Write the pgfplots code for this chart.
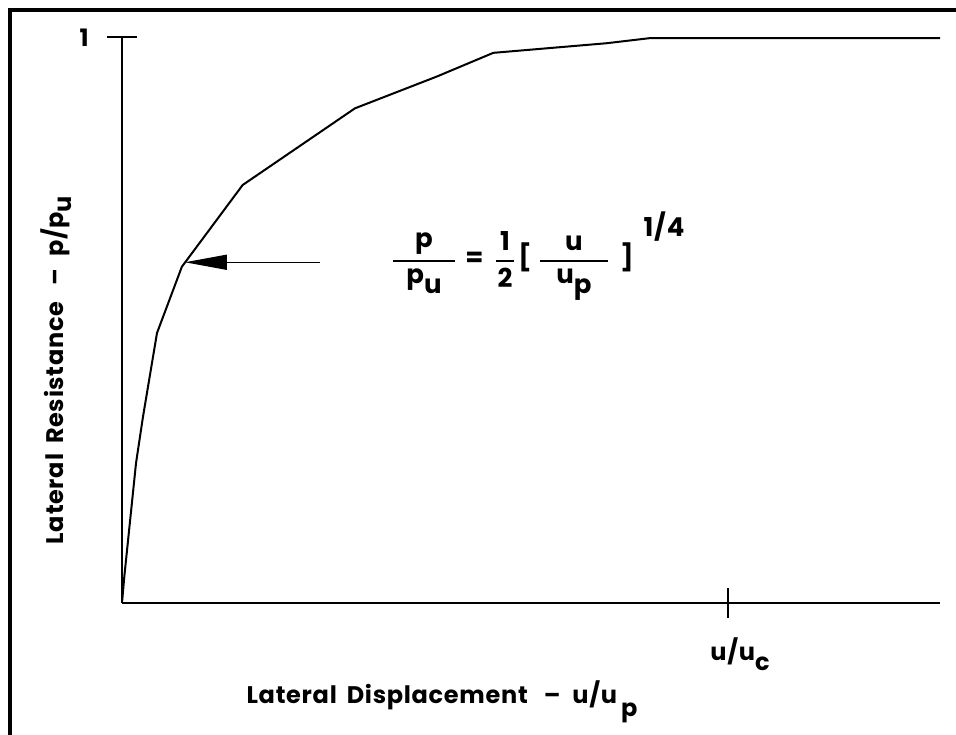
\documentclass[border=0pt]{standalone}
\usepackage{amsmath}
\usepackage{pgfplots}
\pgfplotsset{compat=1.18}
\usepackage{fontspec}
\setmainfont{Poppins}[LetterSpace=3]
\usetikzlibrary{arrows.meta}
\newcommand\fr[3][1pt]{\genfrac{}{}{#1}{0}{#2}{#3}}
\begin{document}
\begin{tikzpicture}[x=1pt,y=1pt]
\useasboundingbox (0,0) rectangle (478,367);
\draw[line width=2pt] (5,-20) -- (5,361.75) -- (500,361.75);
\begin{axis}[
  at={(61pt,65.5pt)}, anchor=south west,
  scale only axis, width=409pt, height=283pt,
  xmin=0, xmax=10.8, ymin=0, ymax=1,
  axis lines=left, axis line style={-, line width=0.9pt},
  xtick={8}, ytick={1}, xticklabels={}, yticklabels={},
  major tick length=15pt, tick align=center,
  tick style={line width=0.8pt, black},
  clip=false]
\addplot[black, line width=1pt] coordinates {
  (0,0) (0.03,0.046) (0.185,0.247) (0.277,0.329) (0.462,0.477)
  (0.79,0.594) (1.593,0.7385) (3.076,0.874) (4.154,0.930)
  (4.902,0.972) (6.399,0.989) (6.97,0.998) (10.8,0.998)};
\draw[line width=0.7pt, -{Triangle[length=21pt,width=7.5pt]}]
  (axis cs:2.61,0.602) -- (axis cs:0.83,0.602);
\end{axis}
\node[anchor=east, inner sep=0, font=\fontsize{12}{14}\selectfont\bfseries] at (44.5,348) {1};
\node[anchor=base, inner sep=0, font=\fontsize{12}{14}\selectfont\bfseries] at (370,37) {u/u\raisebox{-0.8ex}{c}};
\node[anchor=base, inner sep=0, font=\fontsize{12}{14}\selectfont\bfseries] at (221,15.5) {Lateral\hspace{5pt}Displacement\hspace{8pt}–\hspace{6pt}u/u\hspace{2pt}\raisebox{-1ex}{p}};
\node[anchor=base, rotate=90, inner sep=0, font=\fontsize{12}{14}\selectfont\bfseries] at (31.5,182) {Lateral\hspace{5pt}Resistance\hspace{8pt}–\hspace{6pt}p/p\raisebox{-0.6ex}{u}};
\node[anchor=base, inner sep=0, font=\fontsize{13}{15}\selectfont\bfseries] at (269,233.5) {$\fr{\makebox[31pt]{p}}{\text{p\raisebox{-0.7ex}{u}}}\hspace{4pt}\text{=}\hspace{5pt}\fr{\makebox[9pt]{1}}{\text{2}}\hspace{1pt}\text{[}\hspace{3pt}\fr{\makebox[34pt]{u}}{\text{u\raisebox{-0.7ex}{p}}}\hspace{5pt}\text{]}^{\raisebox{0.9ex}{\hspace{5pt}1/4}}$};
\end{tikzpicture}
\end{document}
